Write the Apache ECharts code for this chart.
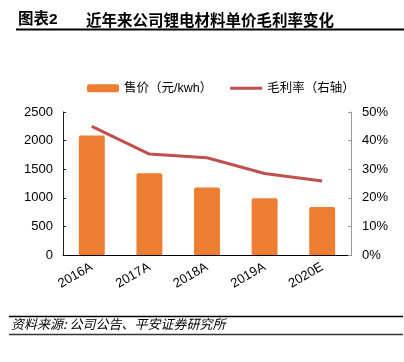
<!DOCTYPE html>
<html>
<head>
<meta charset="utf-8">
<script src="https://cdn.jsdelivr.net/npm/echarts@6/dist/echarts.min.js"></script>
<style>
html,body{margin:0;padding:0;background:#fff;}
#main{width:404px;height:362px;}
</style>
</head>
<body>
<div id="main"></div>
<script>
const categories = ['2016A', '2017A', '2018A', '2019A', '2020E'];
const priceValues = [2090, 1430, 1180, 990, 840];
const marginValues = [0.45, 0.353, 0.34, 0.285, 0.259];
const leftTicks = ['0', '500', '1000', '1500', '2000', '2500'];
const rightTicks = ['0%', '10%', '20%', '30%', '40%', '50%'];

const FONT = '"Liberation Sans", Arial, "Noto Sans CJK SC", sans-serif';
const chart = echarts.init(document.getElementById('main'));
chart.setOption({
  animation: false,
  backgroundColor: '#fff',
  textStyle: { fontFamily: FONT },
  grid: { left: 63, right: 53, top: 112, bottom: 107, containLabel: false },
  legend: {
    left: 82, top: 77,
    itemWidth: 32, itemHeight: 8, itemGap: 18,
    textStyle: { fontSize: 12.5, color: '#000', fontFamily: FONT },
    data: [
      { name: '售价（元/kwh）', icon: 'roundRect' },
      { name: '毛利率（右轴）', icon: 'path://M0,0 L64,0 L64,6 L0,6 Z' }
    ]
  },
  xAxis: {
    type: 'category',
    data: categories,
    axisLine: { lineStyle: { color: '#000', width: 1 } },
    axisTick: { inside: true, length: 3, lineStyle: { color: '#000' } },
    axisLabel: { rotate: 30, fontSize: 13, color: '#000', margin: 11, fontFamily: FONT }
  },
  yAxis: [
    {
      type: 'value', min: 0, max: 2500, interval: 500,
      axisLine: { show: true, lineStyle: { color: '#222', width: 1 } },
      axisTick: { show: true, inside: true, length: 3, lineStyle: { color: '#222' } },
      splitLine: { show: false },
      axisLabel: {
        fontSize: 13, color: '#000', margin: 10, fontFamily: FONT,
        formatter: function (v) { return leftTicks[Math.round(v / 500)]; }
      }
    },
    {
      type: 'value', min: 0, max: 0.5, interval: 0.1,
      axisLine: { show: true, lineStyle: { color: '#999', width: 1 } },
      axisTick: { show: true, inside: true, length: 3, lineStyle: { color: '#999' } },
      splitLine: { show: false },
      axisLabel: {
        fontSize: 13, color: '#000', margin: 11, fontFamily: FONT,
        formatter: function (v) { return rightTicks[Math.round(v * 10)]; }
      }
    }
  ],
  series: [
    {
      name: '售价（元/kwh）', type: 'bar', data: priceValues, barWidth: '45%',
      itemStyle: { color: '#ED7D31', borderRadius: [2, 2, 0, 0] }
    },
    {
      name: '毛利率（右轴）', type: 'line', yAxisIndex: 1, data: marginValues,
      symbol: 'none', lineStyle: { color: '#C0504D', width: 3 }, itemStyle: { color: '#C0504D' }
    }
  ],
  graphic: [
    { type: 'text', left: 18, top: 12, style: { text: '图表2', fontSize: 15.5, fontWeight: 'bold', fill: '#000', fontFamily: FONT } },
    { type: 'text', left: 86, top: 12, style: { text: '近年来公司锂电材料单价毛利率变化', fontSize: 15.5, fontWeight: 'bold', fill: '#000', fontFamily: '"Noto Sans CJK SC", sans-serif' } },
    { type: 'line', shape: { x1: 16, y1: 29.5, x2: 404, y2: 29.5 }, style: { stroke: '#000', lineWidth: 2 } },
    { type: 'line', shape: { x1: 9, y1: 316.5, x2: 403, y2: 316.5 }, style: { stroke: '#000', lineWidth: 1.5 } },
    { type: 'text', left: 11, top: 318, style: { text: '资料来源: 公司公告、平安证券研究所', fontSize: 13, fontStyle: 'italic', fill: '#000', fontFamily: '"Noto Sans CJK SC", sans-serif' } },
    { type: 'line', shape: { x1: 9, y1: 334.5, x2: 403, y2: 334.5 }, style: { stroke: '#333', lineWidth: 1.5 } }
  ]
});
</script>
</body>
</html>
